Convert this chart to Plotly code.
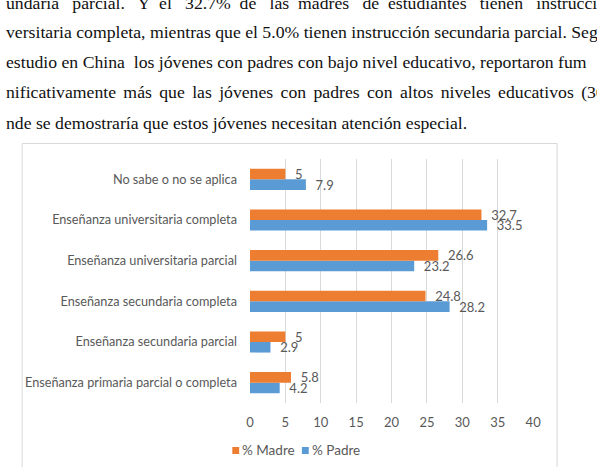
import plotly.graph_objects as go

W, H = 597, 467

categories = [
    "Enseñanza primaria parcial o completa",
    "Enseñanza secundaria parcial",
    "Enseñanza secundaria completa",
    "Enseñanza universitaria parcial",
    "Enseñanza universitaria completa",
    "No sabe o no se aplica",
]
madre = [5.8, 5, 24.8, 26.6, 32.7, 5]
padre = [4.2, 2.9, 28.2, 23.2, 33.5, 7.9]
x_ticks = [0, 5, 10, 15, 20, 25, 30, 35, 40]
series_names = ["% Madre", "% Padre"]

NB = "\u00a0"
G1 = NB + " "
G2 = NB + NB + " "
S6 = "\u2006"
line1_words = ["undaria", "parcial.", "Y", "el", "32.7%", "de", "las", "madres", "de",
               "estudiantes", "tienen", "instrucci"]
line1_gaps = [G2, G2, G1, G2, G1, G2, G1, G2, G1, G2, G2]
line1 = line1_words[0] + "".join(g + w for g, w in zip(line1_gaps, line1_words[1:]))
line4_words = ["nificativamente", "más", "que", "las", "jóvenes", "con", "padres", "con",
               "altos", "niveles", "educativos", "(36"]
line4 = (S6 + " ").join(line4_words)
text_lines = [
    line1,
    "versitaria completa, mientras que el 5.0% tienen instrucción secundaria parcial. Seg",
    "estudio en China" + NB + " los jóvenes con padres con bajo nivel educativo, reportaron fum",
    line4,
    "nde se demostraría que estos jóvenes necesitan atención especial.",
]
line_y = [3, 32, 62, 92, 123]

ORANGE = "#ED7D31"
BLUE = "#5B9BD5"
GRAY = "#595959"
FONT = "Lato"
FS = 12.7
LFS = 13

fig = go.Figure()
fig.add_trace(go.Bar(
    y=categories, x=padre, name=series_names[1], orientation="h",
    marker=dict(color=BLUE, line=dict(width=0)),
    text=[NB + NB + f"{v:g}" for v in padre], textposition="outside", constraintext="none",
    textfont=dict(family=FONT, size=LFS, color=GRAY),
    cliponaxis=False, showlegend=False,
))
fig.add_trace(go.Bar(
    y=categories, x=madre, name=series_names[0], orientation="h",
    marker=dict(color=ORANGE, line=dict(width=0)),
    text=[NB + NB + f"{v:g}" for v in madre], textposition="outside", constraintext="none",
    textfont=dict(family=FONT, size=LFS, color=GRAY),
    cliponaxis=False, showlegend=False,
))

def px(x):
    return x / W

def py(y):
    return 1 - y / H

annotations = []
for t, yy in zip(text_lines, line_y):
    annotations.append(dict(
        text=t, x=0, y=py(yy), xref="paper", yref="paper",
        xanchor="left", yanchor="middle", showarrow=False,
        font=dict(family="Liberation Serif", size=17.7, color="#111111"),
    ))

# legend (swatch + label)
legend_items = [(series_names[0], ORANGE, 233), (series_names[1], BLUE, 304)]
shapes = [
    dict(type="path", xref="paper", yref="paper",
         path=f"M {px(18.5)} {py(480)} L {px(18.5)} {py(143.5)} L {px(564.5)} {py(143.5)} L {px(564.5)} {py(480)}",
         line=dict(color="#D9D9D9", width=1)),
]
for name, col, x0 in legend_items:
    shapes.append(dict(type="rect", xref="paper", yref="paper",
                       x0=px(x0), x1=px(x0 + 7), y0=py(454), y1=py(447),
                       fillcolor=col, line=dict(width=0)))
    annotations.append(dict(text=name, x=px(x0 + 8), y=py(450), xref="paper", yref="paper",
                            xanchor="left", yanchor="middle", showarrow=False,
                            font=dict(family=FONT, size=13.5, color=GRAY)))

fig.update_layout(
    width=W, height=H,
    margin=dict(l=0, r=0, t=0, b=0),
    paper_bgcolor="white", plot_bgcolor="white",
    barmode="group", bargap=0.48, bargroupgap=0,
    font=dict(family=FONT, color=GRAY, size=FS),
    showlegend=False,
    xaxis=dict(domain=[px(251), px(540)], range=[0, 40], tickvals=x_ticks,
               showgrid=True, gridcolor="#D9D9D9", gridwidth=1, zeroline=False,
               showline=False, ticks="", tickfont=dict(family=FONT, size=13, color=GRAY),
               ticklabelstandoff=10, fixedrange=True),
    yaxis=dict(domain=[py(403), py(159)], showgrid=False, zeroline=False, showline=False,
               ticks="", tickfont=dict(family=FONT, size=FS, color=GRAY),
               ticklabelstandoff=12, fixedrange=True),
    annotations=annotations,
    shapes=shapes,
)

fig.write_html("out.html")
